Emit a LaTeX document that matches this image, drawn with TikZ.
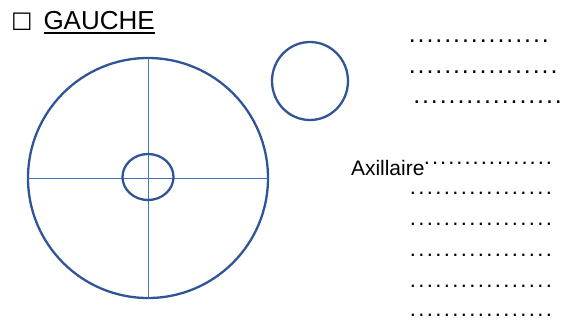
\documentclass[tikz,border=0pt]{standalone}
\usepackage{fontspec}
\setmainfont{Liberation Sans}
\newfontfamily\symfont{DejaVu Sans}
\usetikzlibrary{shapes.geometric}
\definecolor{ringblue}{HTML}{2F5597}
\definecolor{axisblue}{HTML}{4472C4}
\newlength\dotpitch
\newcommand\dotrow[2]{\setlength\dotpitch{#1pt}\hbox to #2\dotpitch{\xleaders\hbox to \dotpitch{\hss.\hss}\hfill}}
\begin{document}
\begin{tikzpicture}[x=1pt,y=-1pt,
  ring/.style={draw=ringblue,line width=2.3pt,inner sep=0,outer sep=0},
  axisline/.style={draw=axisblue,line width=1pt},
  label/.style={anchor=base west,inner sep=0,outer sep=0},
  dotsbig/.style={label,font=\fontsize{25}{25}\selectfont},
  dotssmall/.style={label,font=\fontsize{22}{22}\selectfont}]
\useasboundingbox (0,0) rectangle (570,322);
% title
\node[label,font=\symfont\fontsize{24}{24}\selectfont] (box) at (11,30.5) {☐};
\node[label,font=\fontsize{26}{26}\selectfont] (title) at (43.5,29.5) {GAUCHE};
\draw[line width=2pt] ([yshift=-3.8pt]title.base west) -- ([yshift=-3.8pt]title.base east);
% big circle with cross
\node[ring,circle,minimum size=240pt] (big) at (148,178) {};
\draw[axisline] (big.north) -- (big.south);
\draw[axisline] (big.west) -- (big.east);
\node[ring,ellipse,minimum width=51pt,minimum height=46pt] (small) at (148,177) {};
% top right ellipse
\node[ring,ellipse,minimum width=76pt,minimum height=78pt] (oval) at (310,81) {};
% labels
\node[label,font=\fontsize{21}{21}\selectfont] (axil) at (351,175) {Axillaire};
\node[dotsbig] (r1) at (407.9,42.3) {\dotrow{8.87}{16}};
\node[dotsbig] (r2) at (407.9,73) {\dotrow{8.85}{17}};
\node[dotsbig] (r3) at (412.3,103) {\dotrow{8.85}{17}};
\node[dotssmall] (r4) at (422.9,164.6) {\dotrow{8.13}{16}};
\node[dotssmall] (r5) at (408.75,194.6) {\dotrow{8.5}{17}};
\node[dotssmall] (r6) at (408.75,225.8) {\dotrow{8.5}{17}};
\node[dotssmall] (r7) at (408.75,256.8) {\dotrow{8.5}{17}};
\node[dotssmall] (r8) at (408.75,287.3) {\dotrow{8.5}{17}};
\node[dotssmall] (r9) at (408.75,316.6) {\dotrow{8.5}{17}};
\end{tikzpicture}
\end{document}
